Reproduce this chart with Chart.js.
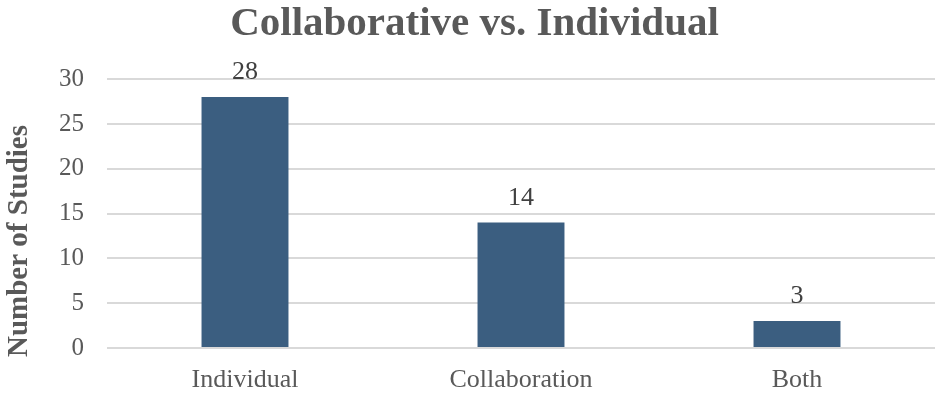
<!DOCTYPE html>
<html>
<head>
<meta charset="utf-8">
<script src="https://cdn.jsdelivr.net/npm/chart.js@4/dist/chart.umd.min.js"></script>
<style>
  html, body { margin: 0; padding: 0; background: #ffffff; }
  #wrap { width: 942px; height: 393px; position: relative; }
</style>
</head>
<body>
<div id="wrap"><canvas id="c" width="942" height="393"></canvas></div>
<script>
const categories = ["Individual", "Collaboration", "Both"];
const studyCounts = [28, 14, 3];
const yTicks = [0, 5, 10, 15, 20, 25, 30];
const yAxisTitle = "Number of Studies";

const FONT = "'Liberation Serif', 'Times New Roman', serif";
const GRAY = "#595959";

const dataLabels = {
  id: "dataLabels",
  afterDatasetsDraw(chart) {
    const ctx = chart.ctx;
    const meta = chart.getDatasetMeta(0);
    ctx.save();
    ctx.font = "26px " + FONT;
    ctx.fillStyle = "#404040";
    ctx.textAlign = "center";
    ctx.textBaseline = "alphabetic";
    meta.data.forEach((bar, i) => {
      ctx.fillText(String(chart.data.datasets[0].data[i]), bar.x, bar.y - 18);
    });
    ctx.restore();
  }
};

const yTitle = {
  id: "yTitle",
  afterDraw(chart) {
    const ctx = chart.ctx;
    const area = chart.chartArea;
    ctx.save();
    ctx.font = "bold 29px " + FONT;
    ctx.fillStyle = GRAY;
    ctx.textAlign = "center";
    ctx.textBaseline = "alphabetic";
    ctx.translate(27, area.bottom - 107);
    ctx.rotate(-Math.PI / 2);
    ctx.fillText(yAxisTitle, 0, 0);
    ctx.restore();
  }
};

new Chart(document.getElementById("c"), {
  type: "bar",
  data: {
    labels: categories,
    datasets: [{
      data: studyCounts,
      backgroundColor: "#3B5E80",
      borderWidth: 0,
      categoryPercentage: 1,
      barPercentage: 0.315
    }]
  },
  options: {
    responsive: false,
    animation: false,
    devicePixelRatio: 1,
    layout: { padding: { left: 14, right: 7, top: 0, bottom: 0 } },
    plugins: {
      legend: { display: false },
      tooltip: { enabled: false },
      title: {
        display: true,
        text: "Collaborative vs. Individual",
        color: GRAY,
        font: { family: FONT, size: 41, weight: "bold", lineHeight: 1.2 },
        padding: { top: 0, bottom: 30 }
      }
    },
    scales: {
      x: {
        grid: { display: false },
        border: { display: false },
        ticks: {
          color: GRAY,
          font: { family: FONT, size: 26 },
          padding: 9
        },
        afterFit(scale) { scale.height = 45; }
      },
      y: {
        min: 0,
        max: 30,
        afterBuildTicks(scale) { scale.ticks = yTicks.map(v => ({ value: v })); },
        grid: { color: "#D9D9D9", lineWidth: 2, drawTicks: false },
        border: { display: false },
        ticks: {
          color: GRAY,
          font: { family: FONT, size: 25 },
          padding: 23
        },
        afterFit(scale) { scale.width = 93; }
      }
    }
  },
  plugins: [dataLabels, yTitle]
});
</script>
</body>
</html>
